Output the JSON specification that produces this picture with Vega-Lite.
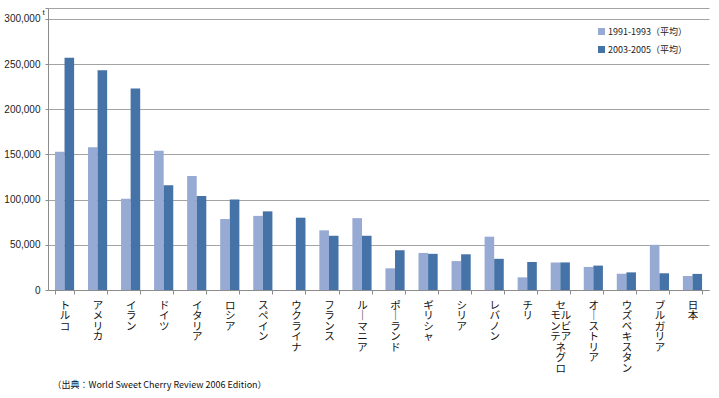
{
  "$schema": "https://vega.github.io/schema/vega-lite/v6.json",
  "autosize": {"type": "none"},
  "padding": {"left": 48, "top": 8, "right": 10, "bottom": 108},
  "width": 661,
  "height": 282,
  "background": "white",
  "config": {"view": {"stroke": null}},
  "data": {"values": [
    {"country": "トルコ", "period": "1991-1993（平均）", "value": 153000},
    {"country": "トルコ", "period": "2003-2005（平均）", "value": 257000},
    {"country": "アメリカ", "period": "1991-1993（平均）", "value": 158000},
    {"country": "アメリカ", "period": "2003-2005（平均）", "value": 243000},
    {"country": "イラン", "period": "1991-1993（平均）", "value": 101000},
    {"country": "イラン", "period": "2003-2005（平均）", "value": 223000},
    {"country": "ドイツ", "period": "1991-1993（平均）", "value": 154000},
    {"country": "ドイツ", "period": "2003-2005（平均）", "value": 116000},
    {"country": "イタリア", "period": "1991-1993（平均）", "value": 126000},
    {"country": "イタリア", "period": "2003-2005（平均）", "value": 104000},
    {"country": "ロシア", "period": "1991-1993（平均）", "value": 78500},
    {"country": "ロシア", "period": "2003-2005（平均）", "value": 100000},
    {"country": "スペイン", "period": "1991-1993（平均）", "value": 82000},
    {"country": "スペイン", "period": "2003-2005（平均）", "value": 87000},
    {"country": "ウクライナ", "period": "2003-2005（平均）", "value": 80000},
    {"country": "フランス", "period": "1991-1993（平均）", "value": 66000},
    {"country": "フランス", "period": "2003-2005（平均）", "value": 60000},
    {"country": "ルーマニア", "period": "1991-1993（平均）", "value": 79500},
    {"country": "ルーマニア", "period": "2003-2005（平均）", "value": 60000},
    {"country": "ポーランド", "period": "1991-1993（平均）", "value": 24000},
    {"country": "ポーランド", "period": "2003-2005（平均）", "value": 44000},
    {"country": "ギリシャ", "period": "1991-1993（平均）", "value": 41000},
    {"country": "ギリシャ", "period": "2003-2005（平均）", "value": 40000},
    {"country": "シリア", "period": "1991-1993（平均）", "value": 32000},
    {"country": "シリア", "period": "2003-2005（平均）", "value": 39500},
    {"country": "レバノン", "period": "1991-1993（平均）", "value": 59000},
    {"country": "レバノン", "period": "2003-2005（平均）", "value": 34500},
    {"country": "チリ", "period": "1991-1993（平均）", "value": 14000},
    {"country": "チリ", "period": "2003-2005（平均）", "value": 31000},
    {"country": "セルビア・モンテネグロ", "period": "1991-1993（平均）", "value": 30500},
    {"country": "セルビア・モンテネグロ", "period": "2003-2005（平均）", "value": 30500},
    {"country": "オーストリア", "period": "1991-1993（平均）", "value": 25500},
    {"country": "オーストリア", "period": "2003-2005（平均）", "value": 27000},
    {"country": "ウズベキスタン", "period": "1991-1993（平均）", "value": 18000},
    {"country": "ウズベキスタン", "period": "2003-2005（平均）", "value": 19500},
    {"country": "ブルガリア", "period": "1991-1993（平均）", "value": 50000},
    {"country": "ブルガリア", "period": "2003-2005（平均）", "value": 18500},
    {"country": "日本", "period": "1991-1993（平均）", "value": 15500},
    {"country": "日本", "period": "2003-2005（平均）", "value": 17800}
  ]},
  "mark": {"type": "bar"},
  "encoding": {
    "x": {
      "field": "country", "type": "nominal", "sort": null,
      "scale": {"paddingInner": 0.42, "paddingOuter": 0.21},
      "axis": {
        "orient": "bottom",
        "domainColor": "#8c8c8c", "tickColor": "#8c8c8c", "tickSize": 4, "tickBand": "extent",
        "labelAngle": 0, "labelAlign": "center", "labelBaseline": "top",
        "labelFont": "Noto Sans CJK JP", "labelFontSize": 10.5, "labelLineHeight": 10.5,
        "labelColor": "#111", "labelPadding": 6, "labelOverlap": false,
        "labelExpr": "!isString(datum.value) ? '' : datum.value == 'セルビア・モンテネグロ' ? ['　セ','モル','ンビ','テア','ネ　','グ　','ロ　'] : split(replace(datum.value, 'ー', '｜'), '')",
        "title": "（出典：World Sweet Cherry Review 2006 Edition）",
        "titleX": 4, "titleY": 94, "titleAlign": "left", "titleBaseline": "middle",
        "titleFont": "Noto Sans CJK JP", "titleFontSize": 9, "titleFontWeight": "normal", "titleColor": "#111"
      }
    },
    "xOffset": {"field": "period", "type": "nominal"},
    "y": {
      "field": "value", "type": "quantitative",
      "scale": {"domain": [0, 312000], "nice": false},
      "axis": {
        "orient": "left",
        "values": [0, 50000, 100000, 150000, 200000, 250000, 300000, 312000],
        "format": ",d",
        "labelExpr": "datum.value > 300000 ? '' : datum.label",
        "labelFont": "Liberation Sans", "labelFontSize": 10, "labelColor": "#222", "labelPadding": 5,
        "grid": true, "gridColor": "#a3a3a3", "gridWidth": 1,
        "domainColor": "#8c8c8c", "tickColor": "#8c8c8c", "tickSize": 3,
        "title": "t", "titleAngle": 0, "titleX": -6, "titleY": 4, "titleAlign": "left", "titleBaseline": "middle",
        "titleFont": "Liberation Sans", "titleFontSize": 8, "titleFontWeight": "normal", "titleColor": "#222"
      }
    },
    "color": {
      "field": "period", "type": "nominal",
      "scale": {"domain": ["1991-1993（平均）", "2003-2005（平均）"], "range": ["#96AAD4", "#4572A7"]},
      "legend": {
        "orient": "none", "legendX": 549, "legendY": 19, "title": null,
        "symbolType": "square", "symbolSize": 49, "symbolStrokeWidth": 0,
        "labelFont": "Noto Sans CJK JP", "labelFontSize": 9, "labelColor": "#222",
        "labelOffset": 2, "rowPadding": 8
      }
    }
  }
}
